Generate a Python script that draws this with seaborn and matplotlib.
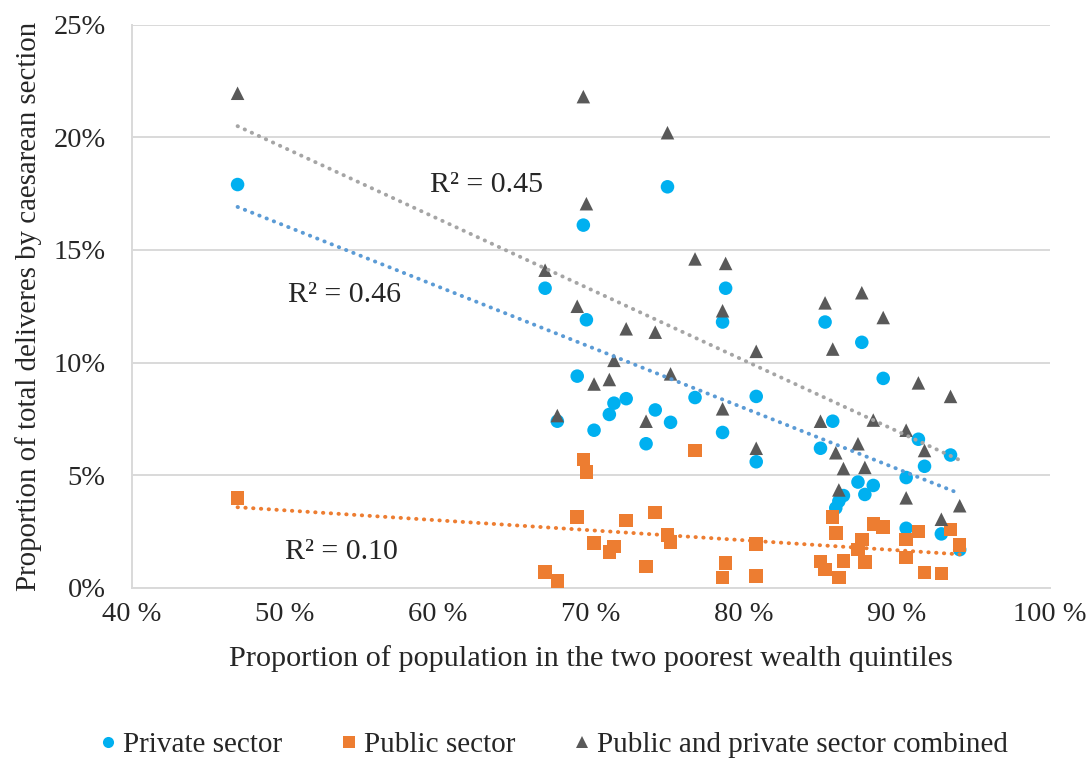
import numpy as np
import pandas as pd
import matplotlib.pyplot as plt
from matplotlib.ticker import FuncFormatter
from matplotlib.lines import Line2D
import seaborn as sns

sns.set_style("white")
plt.rcParams["font.family"] = ["Liberation Serif", "DejaVu Serif"]

# share of population in the two poorest wealth quintiles (%), one value per country
poorest_share = [46.9, 67.0, 67.8, 69.1, 69.5, 69.7, 70.2, 71.2, 71.5, 72.3,
                 73.6, 74.2, 75.0, 75.2, 76.8, 78.6, 78.6, 78.8, 80.8, 80.8,
                 85.0, 85.3, 85.8, 86.0, 86.2, 86.5, 87.45, 87.7, 87.9, 88.45,
                 89.1, 90.6, 90.6, 91.4, 91.8, 92.9, 93.5, 94.1]

# caesarean share of all deliveries (%)
private_cs = [17.9, 13.3, 7.4, 9.4, 16.1, 11.9, 7.0, 7.7, 8.2, 8.4,
              6.4, 7.9, 17.8, 7.35, 8.45, 11.8, 6.9, 13.3, 8.5, 5.6,
              6.2, 11.8, 7.4, 3.55, 3.85, 4.1, 4.7, 10.9, 4.15, 4.55,
              9.3, 4.9, 2.65, 6.6, 5.4, 2.4, 5.9, 1.7]
public_cs = [4.0, 0.72, 0.3, 3.15, 5.7, 5.15, 2.0, 1.6, 1.85, 3.0,
             0.95, 3.35, 2.35, 2.05, 6.1, 0.47, np.nan, 1.1, 1.95, 0.53,
             1.17, 0.83, 3.15, 2.45, 0.46, 1.2, 1.7, 2.15, 1.15, 2.85,
             2.7, 2.15, 1.35, 2.5, 0.68, 0.65, 2.6, 1.9]
combined_cs = [21.95, 14.1, 7.65, 12.5, 21.8, 17.05, 9.05, 9.25, 10.1, 11.5,
               7.4, 11.35, 20.2, 9.5, 14.6, 12.3, 7.95, 14.4, 10.5, 6.2,
               7.4, 12.65, 10.6, 6.0, 4.35, 5.3, 6.4, 13.1, 5.35, 7.45,
               12.0, 7.0, 4.0, 9.1, 6.1, 3.05, 8.5, 3.65]

series_names = ["Private sector", "Public sector", "Public and private sector combined"]
marker_colors = ["#00B0F0", "#ED7D31", "#595959"]
trend_colors = ["#5B9BD5", "#ED7D31", "#A5A5A5"]
marker_shapes = ["o", "s", "^"]
r2_labels = ["R² = 0.46", "R² = 0.10", "R² = 0.45"]
r2_pos = [(53.9, 13.0), (53.7, 1.6), (63.2, 17.9)]

values = [private_cs, public_cs, combined_cs]
df = pd.concat([
    pd.DataFrame({"x": poorest_share, "y": v, "sector": name})
    for v, name in zip(values, series_names)
], ignore_index=True)

fig, ax = plt.subplots(figsize=(10.91, 7.59), dpi=100)
fig.subplots_adjust(left=0.121, right=0.9624, top=0.9677, bottom=0.2253)

sns.scatterplot(data=df, x="x", y="y", hue="sector", style="sector",
                hue_order=series_names, style_order=series_names,
                palette=dict(zip(series_names, marker_colors)),
                markers=dict(zip(series_names, marker_shapes)),
                s=95, linewidth=0, legend=False, ax=ax, zorder=3)

# linear trend lines, fitted by seaborn
for v, col in zip(values, trend_colors):
    sns.regplot(x=np.array(poorest_share), y=np.array(v, dtype=float),
                scatter=False, ci=None, truncate=True, color=col, ax=ax,
                line_kws=dict(lw=2.8, linestyle=(0, (0.1, 1.9)),
                              dash_capstyle="round", zorder=4))

for lab, (tx, ty) in zip(r2_labels, r2_pos):
    ax.text(tx, ty, lab, fontsize=21.5, ha="center", va="center")

ax.set_xlim(40, 100)
ax.set_ylim(0, 25)
ax.set_xticks(range(40, 101, 10))
ax.set_yticks(range(0, 26, 5))
ax.xaxis.set_major_formatter(FuncFormatter(lambda v, p: f"{v:.0f} %"))
ax.yaxis.set_major_formatter(FuncFormatter(lambda v, p: f"{v:.0f}%"))
ax.tick_params(axis="both", length=0, labelsize=20.5)
ax.tick_params(axis="y", pad=19)
ax.tick_params(axis="x", pad=10)

ax.grid(axis="y", color="#D9D9D9", lw=1.4)
ax.set_axisbelow(True)
for side in ["top", "right"]:
    ax.spines[side].set_visible(False)
for side in ["left", "bottom"]:
    ax.spines[side].set_color("#D9D9D9")
    ax.spines[side].set_linewidth(1.4)

ax.set_xlabel("Proportion of population in the two poorest wealth quintiles",
              fontsize=21.8, labelpad=13)
ax.set_ylabel("Proportion of total deliveres by caesarean section",
              fontsize=20.8, labelpad=8)

handles = [Line2D([], [], marker=m, linestyle="", markerfacecolor=c,
                  markeredgewidth=0, markersize=8)
           for m, c in zip(marker_shapes, marker_colors)]
fig.legend(handles, series_names, loc="center", bbox_to_anchor=(0.506, 0.019),
           ncol=3, frameon=False, fontsize=21, handletextpad=0.1,
           columnspacing=1.9, handlelength=0.8)

fig.savefig("out.png", dpi=100)
